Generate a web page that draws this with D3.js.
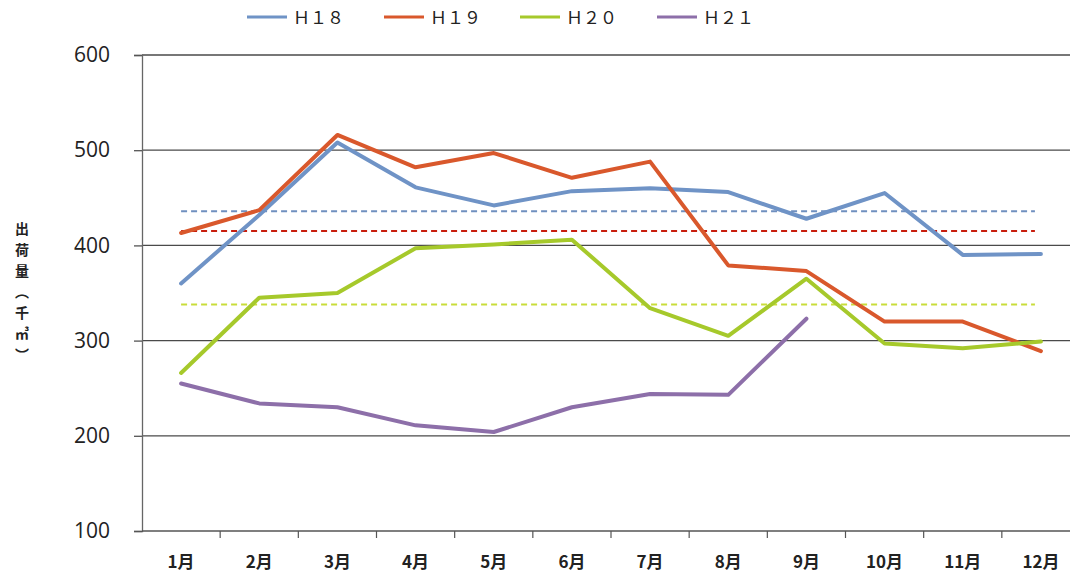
<!DOCTYPE html>
<html><head><meta charset="utf-8">
<script src="https://cdn.jsdelivr.net/npm/d3@7"></script>
<style>body{margin:0;background:#fff}svg{display:block}</style>
</head><body><svg id="c" width="1070" height="585"></svg>
<script>
const months = ["1月","2月","3月","4月","5月","6月","7月","8月","9月","10月","11月","12月"];
const seriesNames = ["Ｈ１８","Ｈ１９","Ｈ２０","Ｈ２１"];
const h18 = [360,432,508,461,442,457,460,456,428,455,390,391];
const h19 = [413,437,516,482,497,471,488,379,373,320,320,289];
const h20 = [266,345,350,397,401,406,334,305,365,297,292,299];
const h21 = [255,234,230,211,204,230,244,243,323];
const averages = [436,415,338];
const yTicks = [100,200,300,400,500,600];
const yTitle = ["出","荷","量","︵","千","㎥","︶"];

(function(){
const colors = ["#6f93c6","#d9582c","#a6c92b","#8d6fa9"];
const avgColors = ["#6f8fbf","#c81e0e","#c9dd3a"];

const svg = d3.select("#c");
const pl = 142, pr = 1080, pt = 55, pb = 531;
const x = d3.scaleBand().domain(months).range([pl, pr]);
const y = d3.scaleLinear().domain([100,600]).range([pb, pt]);
const cx = m => x(m) + x.bandwidth()/2;

// gridlines
svg.append("g").selectAll("line").data(yTicks.filter(t=>t>100)).join("line")
  .attr("x1", pl).attr("x2", 1070).attr("y1", d=>y(d)).attr("y2", d=>y(d))
  .attr("stroke","#4a4a4a").attr("stroke-width",1.3);

// y axis
const ya = svg.append("g").attr("transform",`translate(${pl},0)`)
  .call(d3.axisLeft(y).tickValues(yTicks).tickSize(8).tickPadding(24));
ya.select(".domain").attr("stroke","#666").attr("stroke-width",1.3);
ya.selectAll(".tick line").attr("stroke","#555").attr("stroke-width",1.3);
ya.selectAll("text").attr("font-family","Open Sans, DejaVu Sans, sans-serif").attr("font-size",21).attr("fill","#222");

// x axis
const xa = svg.append("g").attr("transform",`translate(0,${pb})`)
  .call(d3.axisBottom(x).tickSize(0).tickPadding(25));
xa.select(".domain").remove();
xa.selectAll("text").attr("font-family","Noto Sans CJK JP, sans-serif").attr("font-size",17).attr("font-weight","bold").attr("fill","#222");
svg.append("line").attr("x1",pl).attr("x2",1070).attr("y1",pb).attr("y2",pb).attr("stroke","#555").attr("stroke-width",1.5);
svg.append("g").selectAll("line").data(months.slice(1)).join("line")
  .attr("x1",d=>x(d)).attr("x2",d=>x(d)).attr("y1",pb).attr("y2",pb+7)
  .attr("stroke","#555").attr("stroke-width",1.2);

// average dashed lines
svg.append("g").selectAll("line").data(averages).join("line")
  .attr("x1", cx(months[0])).attr("x2", cx(months[11]) - 6)
  .attr("y1", d=>y(d)).attr("y2", d=>y(d))
  .attr("stroke",(d,i)=>avgColors[i]).attr("stroke-width",2).attr("stroke-dasharray","6,4");

// series lines
const line = d3.line().x((d,i)=>cx(months[i])).y(d=>y(d));
const allSeries = [h18,h19,h20,h21];
svg.append("g").selectAll("path").data(allSeries).join("path")
  .attr("d", line).attr("fill","none")
  .attr("stroke",(d,i)=>colors[i]).attr("stroke-width",4).attr("stroke-linejoin","round").attr("stroke-linecap","round");

// legend
const legX = [247,384,520,657];
const lg = svg.append("g").selectAll("g").data(seriesNames).join("g")
  .attr("transform",(d,i)=>`translate(${legX[i]},17)`);
lg.append("line").attr("x1",0).attr("x2",40).attr("y1",0).attr("y2",0)
  .attr("stroke",(d,i)=>colors[i]).attr("stroke-width",3);
lg.append("text").attr("x",46).attr("y",7).text(d=>d)
  .attr("font-family","Noto Sans CJK JP, sans-serif").attr("font-size",17).attr("fill","#222");

// y title, stacked vertically
const tY = [228,249,270,291,312,333,354];
svg.append("g").selectAll("text").data(yTitle).join("text")
  .attr("x",22).attr("y",(d,i)=>tY[i])
  .attr("text-anchor","middle").attr("dominant-baseline","central")
  .attr("font-family","Noto Sans CJK JP, sans-serif").attr("font-size",14).attr("font-weight","bold").attr("fill","#222")
  .text(d=>d);
})();
</script></body></html>
